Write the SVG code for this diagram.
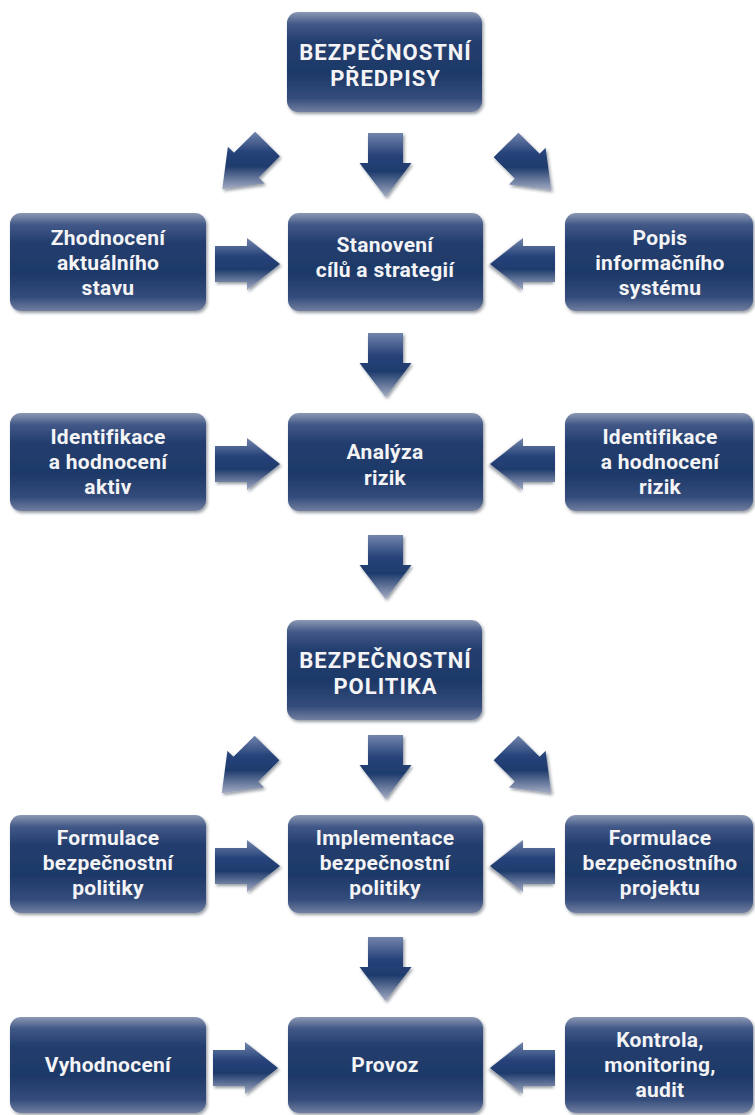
<svg xmlns="http://www.w3.org/2000/svg" width="755" height="1115" viewBox="0 0 755 1115">
<defs>
<linearGradient id="gBox" x1="0" y1="0" x2="0" y2="1">
<stop offset="0" stop-color="#8d99b4"/>
<stop offset="0.12" stop-color="#425887"/>
<stop offset="0.3" stop-color="#223e6e"/>
<stop offset="0.62" stop-color="#1e3968"/>
<stop offset="0.86" stop-color="#344c7b"/>
<stop offset="1" stop-color="#717fa0"/>
</linearGradient>
<linearGradient id="gArr" x1="0" y1="0" x2="0" y2="1">
<stop offset="0" stop-color="#7184ab"/>
<stop offset="0.35" stop-color="#27437a"/>
<stop offset="0.6" stop-color="#1e3b6c"/>
<stop offset="1" stop-color="#a4acc4"/>
</linearGradient>
<filter id="sh" x="-10%" y="-10%" width="125%" height="125%">
<feDropShadow dx="1.5" dy="2" stdDeviation="1.5" flood-color="#1a2030" flood-opacity="0.45"/>
</filter>
<path id="aDown" d="M-17.5,0 L17.5,0 L17.5,30 L26,30 L0,64 L-26,30 L-17.5,30 Z"/>
<path id="aRight" d="M0,-18 L32,-18 L32,-26 L65,0 L32,26 L32,18 L0,18 Z"/>
<path id="aDL" d="M-12.37,-12.37 L12.37,12.37 L-8.84,33.59 L-2.83,39.6 L-45.25,45.25 L-39.6,2.83 L-33.59,8.84 Z"/>
<path id="aDR" d="M-12.37,12.37 L12.37,-12.37 L33.59,8.84 L39.6,2.83 L45.25,45.25 L2.83,39.6 L8.84,33.59 Z"/>
</defs>
<style>
.box{fill:url(#gBox);filter:url(#sh);}
.arr{fill:url(#gArr);filter:url(#sh);}
.t{font-family:Roboto,"Liberation Sans",sans-serif;font-weight:bold;font-size:21px;letter-spacing:0.3px;fill:#f4f4f6;text-anchor:middle;}
.tc{font-size:22px;letter-spacing:1px;}
</style>
<rect width="755" height="1115" fill="#ffffff"/>

<g id="connectors">
<use href="#aDL" class="arr" x="267.5" y="144"/>
<use href="#aDown" class="arr" x="385.5" y="133"/>
<use href="#aDR" class="arr" x="506" y="145"/>
<use href="#aRight" class="arr" x="215" y="264"/>
<use href="#aRight" class="arr" transform="translate(555,264) scale(-1,1)"/>
<use href="#aDown" class="arr" x="385.5" y="333"/>
<use href="#aRight" class="arr" x="215" y="464"/>
<use href="#aRight" class="arr" transform="translate(555,464) scale(-1,1)"/>
<use href="#aDown" class="arr" x="385.5" y="535"/>
<use href="#aDL" class="arr" x="267" y="748"/>
<use href="#aDown" class="arr" x="385.5" y="735"/>
<use href="#aDR" class="arr" x="506" y="748"/>
<use href="#aRight" class="arr" x="215" y="866"/>
<use href="#aRight" class="arr" transform="translate(555,866) scale(-1,1)"/>
<use href="#aDown" class="arr" x="385.5" y="937"/>
<use href="#aRight" class="arr" x="213" y="1068"/>
<use href="#aRight" class="arr" transform="translate(555,1068) scale(-1,1)"/>
</g>

<g id="n1"><rect class="box" x="287" y="12" width="195" height="100" rx="11"/>
<text class="t tc" x="385.5" y="60">BEZPEČNOSTNÍ</text><text class="t tc" x="385.5" y="86">PŘEDPISY</text></g>

<g id="n2"><rect class="box" x="10" y="213" width="196" height="98" rx="11"/>
<text class="t" x="108" y="245">Zhodnocení</text><text class="t" x="108" y="270">aktuálního</text><text class="t" x="108" y="295">stavu</text></g>
<g id="n3"><rect class="box" x="288" y="213" width="195" height="98" rx="11"/>
<text class="t" x="385" y="252">Stanovení</text><text class="t" x="385" y="277">cílů a strategií</text></g>
<g id="n4"><rect class="box" x="565" y="213" width="188" height="98" rx="11"/>
<text class="t" x="660" y="245">Popis</text><text class="t" x="660" y="270">informačního</text><text class="t" x="660" y="295">systému</text></g>

<g id="n5"><rect class="box" x="10" y="413" width="196" height="98" rx="11"/>
<text class="t" x="108" y="444">Identifikace</text><text class="t" x="108" y="469">a hodnocení</text><text class="t" x="108" y="494">aktiv</text></g>
<g id="n6"><rect class="box" x="288" y="413" width="195" height="98" rx="11"/>
<text class="t" x="385" y="459">Analýza</text><text class="t" x="385" y="485">rizik</text></g>
<g id="n7"><rect class="box" x="565" y="413" width="188" height="98" rx="11"/>
<text class="t" x="660" y="444">Identifikace</text><text class="t" x="660" y="469">a hodnocení</text><text class="t" x="660" y="494">rizik</text></g>

<g id="n8"><rect class="box" x="287" y="620" width="195" height="100" rx="11"/>
<text class="t tc" x="385.5" y="668">BEZPEČNOSTNÍ</text><text class="t tc" x="385.5" y="694">POLITIKA</text></g>

<g id="n9"><rect class="box" x="10" y="815" width="196" height="98" rx="11"/>
<text class="t" x="108" y="845">Formulace</text><text class="t" x="108" y="870">bezpečnostní</text><text class="t" x="108" y="895">politiky</text></g>
<g id="n10"><rect class="box" x="288" y="815" width="195" height="98" rx="11"/>
<text class="t" x="385" y="845">Implementace</text><text class="t" x="385" y="870">bezpečnostní</text><text class="t" x="385" y="895">politiky</text></g>
<g id="n11"><rect class="box" x="565" y="815" width="188" height="98" rx="11"/>
<text class="t" x="660" y="845">Formulace</text><text class="t" x="660" y="870">bezpečnostního</text><text class="t" x="660" y="895">projektu</text></g>

<g id="n12"><rect class="box" x="10" y="1017" width="196" height="96" rx="11"/>
<text class="t" x="108" y="1072">Vyhodnocení</text></g>
<g id="n13"><rect class="box" x="288" y="1017" width="195" height="96" rx="11"/>
<text class="t" x="385" y="1072">Provoz</text></g>
<g id="n14"><rect class="box" x="565" y="1017" width="188" height="96" rx="11"/>
<text class="t" x="660" y="1047">Kontrola,</text><text class="t" x="660" y="1072">monitoring,</text><text class="t" x="660" y="1097">audit</text></g>
</svg>
